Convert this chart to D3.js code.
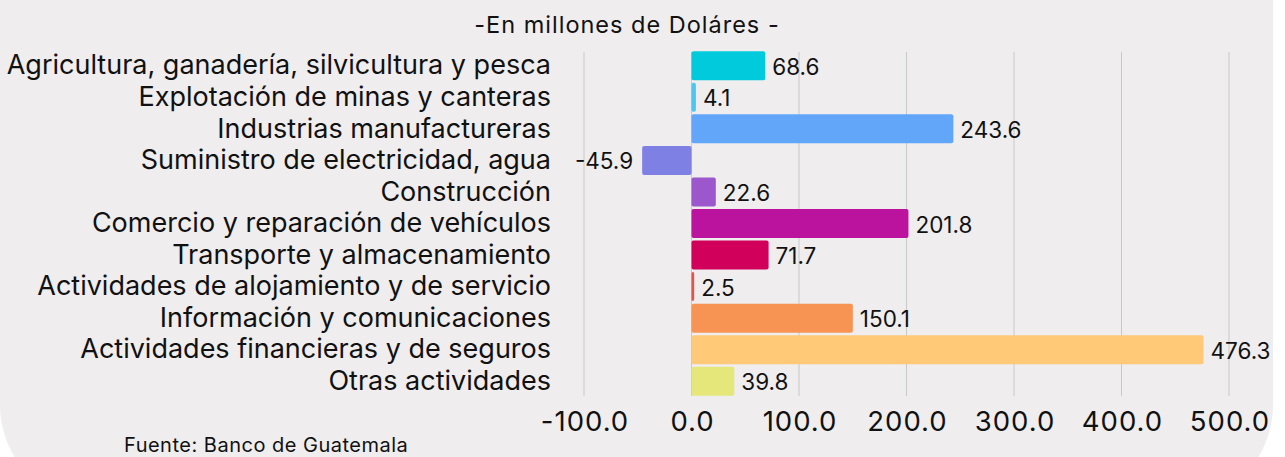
<!DOCTYPE html>
<html><head><meta charset="utf-8">
<script src="https://cdn.jsdelivr.net/npm/d3@7"></script>
<style>
html,body{margin:0;padding:0;background:#ffffff;}
svg{display:block;font-family:Inter,"Noto Sans",sans-serif;}
</style></head>
<body><svg id="c" width="1285" height="457"></svg>
<script>
const categories = [
  "Agricultura, ganadería, silvicultura y pesca",
  "Explotación de minas y canteras",
  "Industrias manufactureras",
  "Suministro de electricidad, agua",
  "Construcción",
  "Comercio y reparación de vehículos",
  "Transporte y almacenamiento",
  "Actividades de alojamiento y de servicio",
  "Información y comunicaciones",
  "Actividades financieras y de seguros",
  "Otras actividades"
];
const values = [68.6, 4.1, 243.6, -45.9, 22.6, 201.8, 71.7, 2.5, 150.1, 476.3, 39.8];
const colors = ["#00cadc","#4cc6f5","#62a6f9","#7f80e4","#9c57cc","#bb139e","#d1005a","#e0564b","#f79454","#ffc978","#e5e77a"];
const tickValues = [-100, 0, 100, 200, 300, 400, 500];
const title = "-En millones de Doláres -";
const source = "Fuente: Banco de Guatemala";

const fmt = d => d3.format(".1f")(d).replace("\u2212", "-");

const svg = d3.select("#c");
svg.append("rect").attr("x",0).attr("y",-200).attr("width",1273).attr("height",705)
  .attr("rx",100).attr("fill","#efedee");

const x = d3.scaleLinear().domain([-100, 500]).range([584, 1229]);
const y = d3.scaleBand().domain(categories).range([50, 397]).paddingInner(0.08).paddingOuter(0.04);

// gridlines
svg.append("g").selectAll("line").data(tickValues).join("line")
  .attr("x1", d=>x(d)).attr("x2", d=>x(d)).attr("y1", 52).attr("y2", 396)
  .attr("stroke", "#c9c8c9").attr("stroke-width", 1);

// bars
svg.append("g").selectAll("rect").data(values).join("rect")
  .attr("x", d=>Math.min(x(0), x(d)))
  .attr("y", (d,i)=>y(categories[i]))
  .attr("width", d=>Math.abs(x(d)-x(0)))
  .attr("height", y.bandwidth())
  .attr("rx", 2)
  .attr("fill", (d,i)=>colors[i]);

// value labels
svg.append("g").selectAll("text").data(values).join("text")
  .attr("x", d=> d>=0 ? x(d)+7 : x(d)-9)
  .attr("y", (d,i)=>y(categories[i]) + y.bandwidth()/2)
  .attr("dy", "0.4em")
  .attr("text-anchor", d=> d>=0 ? "start" : "end")
  .attr("font-size", 22.5).attr("fill", "#111")
  .text(d=>fmt(d));

// category axis
const yAxis = svg.append("g").attr("transform","translate(551,0)")
  .call(d3.axisLeft(y).tickSize(0).tickPadding(0));
yAxis.select(".domain").remove();
yAxis.selectAll("text").attr("font-size", 27).attr("fill","#111").attr("font-family","Inter");

// x axis
const xAxis = svg.append("g").attr("transform","translate(0,397)")
  .call(d3.axisBottom(x).tickValues(tickValues).tickSize(0).tickPadding(14).tickFormat(fmt));
xAxis.select(".domain").remove();
xAxis.selectAll("text").attr("font-size", 27.5).attr("fill","#111").attr("font-family","Inter")
  .attr("letter-spacing", 1).attr("dx", 0.5);

svg.append("text").attr("x", 627).attr("y", 33).attr("text-anchor","middle")
  .attr("font-size", 23.5).attr("letter-spacing", 1).attr("fill","#111").text(title);
svg.append("text").attr("x", 124).attr("y", 452)
  .attr("font-size", 20).attr("letter-spacing", 0.5).attr("fill","#111").text(source);
</script></body></html>
